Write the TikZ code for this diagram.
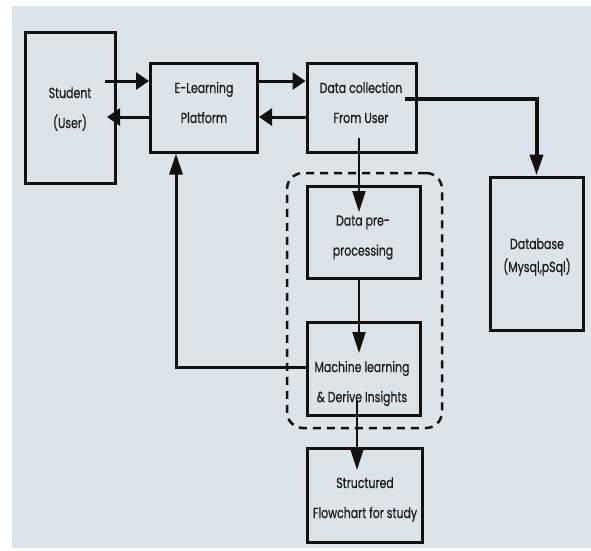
\documentclass[tikz,border=0pt]{standalone}
\usepackage{fontspec}
\setmainfont[FakeStretch=0.75,FakeBold=0.6]{Poppins}
\usetikzlibrary{arrows.meta}
\definecolor{bg}{RGB}{220,227,233}
\definecolor{ink}{RGB}{17,17,17}
\definecolor{txtc}{RGB}{28,28,28}
\begin{document}
\begin{tikzpicture}[x=1pt,y=-1pt,
  box/.style={draw=ink, line width=3pt, inner sep=0pt},
  txt/.style={align=center, text=txtc, font=\fontsize{14.6}{30}\selectfont, inner sep=0pt},
  txtdb/.style={align=center, text=txtc, font=\fontsize{14.6}{23}\selectfont, inner sep=0pt},
  harr/.style={draw=ink, line width=3pt, -{Triangle[length=13pt,width=17pt]}},
  varr/.style={draw=ink, line width=2pt, -{Triangle[length=21pt,width=13pt]}},
  grpbox/.style={draw=ink, line width=2.5pt, dash pattern=on 8pt off 6pt, rounded corners=16pt, inner sep=0pt}]
\useasboundingbox (0,0) rectangle (591,550);
\fill[white] (0,0) rectangle (591,550);
\fill[bg] (12,6) rectangle (591,548);

% group frame
\node[grpbox, minimum width=155pt, minimum height=255pt] (grp) at (364.5,300.5) {};

% boxes
\node[box, minimum width=90pt,  minimum height=151pt] (student) at (70.6,107.5) {};
\node[box, minimum width=107pt, minimum height=89pt]  (elearn)  at (204,107.5) {};
\node[box, minimum width=109pt, minimum height=89pt]  (data)    at (361.5,107.5) {};
\node[box, minimum width=93pt,  minimum height=153pt] (db)      at (536.5,253.5) {};
\node[box, minimum width=113pt, minimum height=92pt]  (pre)     at (363.5,232) {};
\node[box, minimum width=113pt, minimum height=93pt]  (ml)      at (363.5,368.5) {};
\node[box, minimum width=115pt, minimum height=94pt]  (struct)  at (364.5,495) {};

% texts
\node[txt] (tstudent) at (70,109) {Student\\(User)};
\node[txt] (telearn) at (204,102.5) {E-Learning\\Platform};
\node[txt] (tdata) at (361,102.5) {Data collection\\From User};
\node[txt] (tpre) at (363,237.5) {Data pre-\\processing};
\node[txt] (tml) at (362,383.5) {Machine learning\\\& Derive Insights};
\node[txt] (tstruct) at (365,499.5) {Structured\\Flowchart for study};
\node[txtdb] (tdb) at (537,257) {Database\\(Mysql,pSql)};

% connector ends
\coordinate (a1) at (105,81);
\coordinate (a2) at (107,117);
\coordinate (dbs) at (405,99);
\coordinate (dps) at (359,138);
\coordinate (dpe) at (359,212);
\coordinate (pme) at (359,353);
\coordinate (fb) at (176,367);
\coordinate (mss) at (357,400);
\coordinate (mse) at (357,470);

% connectors
\draw[harr] (a1) -- (elearn.west |- a1);
\draw[harr] (elearn.west |- a2) -- (a2);
\draw[harr] (elearn.east |- a1) -- (data.west |- a1);
\draw[harr] (data.west |- a2) -- (elearn.east |- a2);
\draw[varr, line width=4pt] (dbs) -| (db.north);
\draw[varr] (dps) -- (dpe);
\draw[varr] (pme |- pre.south) -- (pme);
\draw[varr, line width=3pt] (ml.west |- fb) -- (fb) -- (fb |- elearn.south);
\draw[varr] (mss) -- (mse);
\end{tikzpicture}
\end{document}
